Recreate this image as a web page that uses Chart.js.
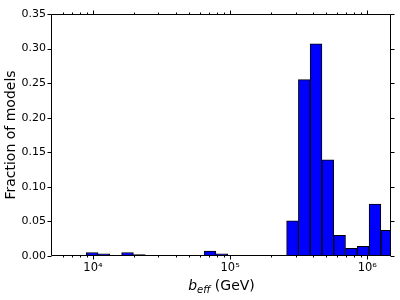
<!DOCTYPE html>
<html>
<head>
<meta charset="utf-8">
<script src="https://cdn.jsdelivr.net/npm/chart.js@4"></script>
<style>
  body { margin: 0; background: #fff; }
  #wrap { width: 400px; height: 300px; }
</style>
</head>
<body>
<div id="wrap"><canvas id="hist"></canvas></div>
<script>
// bin centres (GeV) of the log-spaced histogram, only the non-empty bins
const binCenters = [9867, 12030, 17860, 21770, 71330, 86930, 233700, 284800,
  347100, 422900, 515400, 628200, 765600, 933000, 1137000, 1386000];
const fractions = [0.005, 0.003, 0.005, 0.002, 0.007, 0.003, 0.001, 0.051,
  0.255, 0.307, 0.139, 0.030, 0.011, 0.014, 0.075, 0.037];
const xTicks = [1e4, 1e5, 1e6];
const sup = { '4': '\u2074', '5': '\u2075', '6': '\u2076' };

Chart.defaults.font.family = 'DejaVu Sans';
Chart.defaults.color = '#000';

// matplotlib style frame, outward ticks (major + log minor) and the x label
const frame = {
  id: 'frame',
  afterDatasetsDraw(chart) {
    const { ctx, chartArea: a, scales: { x, y } } = chart;
    const L = Math.round(a.left) - 0.5, R = Math.round(a.right) - 0.5;
    const T = Math.round(a.top) + 0.5, B = Math.round(a.bottom) - 0.5;
    ctx.save();
    ctx.strokeStyle = '#000';
    ctx.lineWidth = 1;
    ctx.beginPath();
    ctx.rect(L, T, R - L, B - T);
    const vtick = (v, len) => {
      const px = Math.round(x.getPixelForValue(v)) + 0.5;
      ctx.moveTo(px, B); ctx.lineTo(px, B + len);
      ctx.moveTo(px, T); ctx.lineTo(px, T - len);
    };
    xTicks.forEach(v => vtick(v, 4));
    for (let d = 1e3; d <= 1e6; d *= 10) {
      for (let m = 2; m <= 9; m++) {
        const v = m * d;
        if (v > x.min && v < x.max) vtick(v, 2);
      }
    }
    y.ticks.forEach(t => {
      const py = Math.round(y.getPixelForValue(t.value)) + 0.5;
      ctx.moveTo(L, py); ctx.lineTo(L - 4, py);
      ctx.moveTo(R, py); ctx.lineTo(R + 4, py);
    });
    ctx.stroke();
    ctx.restore();
  },
  afterDraw(chart) {
    const { ctx, chartArea: a } = chart;
    const cx = (a.left + a.right) / 2, base = 289.5;
    ctx.save();
    ctx.fillStyle = '#000';
    ctx.textBaseline = 'alphabetic';
    const big = 'italic 14px "DejaVu Sans"', small = 'italic 10px "DejaVu Sans"', reg = '14px "DejaVu Sans"';
    ctx.font = big; const w1 = ctx.measureText('b').width;
    ctx.font = small; const w2 = ctx.measureText('eff').width;
    ctx.font = reg; const w3 = ctx.measureText(' (GeV)').width;
    let xs = cx - (w1 + w2 + w3) / 2;
    ctx.font = big; ctx.fillText('b', xs, base); xs += w1;
    ctx.font = small; ctx.fillText('eff', xs, base + 3); xs += w2;
    ctx.font = reg; ctx.fillText(' (GeV)', xs, base);
    ctx.restore();
  }
};

new Chart(document.getElementById('hist'), {
  type: 'bar',
  data: {
    datasets: [{
      data: binCenters.map((c, i) => ({ x: c, y: fractions[i] })),
      backgroundColor: '#0000ff',
      borderColor: '#000',
      borderWidth: 1,
      borderSkipped: false,
      barPercentage: 1,
      categoryPercentage: 1
    }]
  },
  options: {
    responsive: true,
    maintainAspectRatio: false,
    animation: false,
    layout: { padding: { left: 0, top: 14, right: 9, bottom: 0 } },
    plugins: { legend: { display: false }, tooltip: { enabled: false } },
    scales: {
      x: {
        type: 'logarithmic',
        min: 5027,
        max: 1488000,
        offset: false,
        grid: { display: false, drawTicks: false },
        border: { display: false },
        afterBuildTicks: s => { s.ticks = xTicks.map(v => ({ value: v })); },
        afterFit: s => { s.height = 44; },
        ticks: {
          autoSkip: false,
          maxRotation: 0,
          padding: 5,
          font: { size: 11.5 },
          callback: v => '10' + sup[String(Math.round(Math.log10(v)))]
        }
      },
      y: {
        min: 0,
        max: 0.35,
        grid: { display: false, drawTicks: false },
        border: { display: false },
        afterFit: s => { s.width = 52; },
        ticks: {
          stepSize: 0.05,
          padding: 6,
          font: { size: 11 },
          callback: v => v.toFixed(2)
        },
        title: {
          display: true,
          text: 'Fraction of models',
          font: { size: 14 },
          padding: { top: 3 }
        }
      }
    }
  },
  plugins: [frame]
});
</script>
</body>
</html>
